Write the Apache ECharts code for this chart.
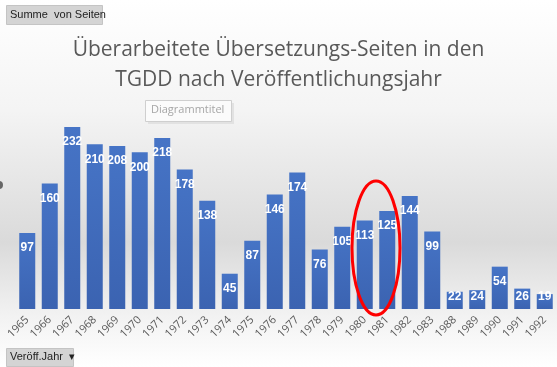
<!DOCTYPE html>
<html><head><meta charset="utf-8">
<script src="https://cdn.jsdelivr.net/npm/echarts@6/dist/echarts.min.js"></script>
<style>html,body{margin:0;padding:0;background:#fff}#c{width:557px;height:367px}</style>
</head><body><div id="c"></div>
<script>
const years = ['1965','1966','1967','1968','1969','1970','1971','1972','1973','1974','1975','1976','1977','1978','1979','1980','1981','1982','1983','1988','1989','1990','1991','1992'];
const pages = [97,160,232,210,208,200,218,178,138,45,87,146,174,76,105,113,125,144,99,22,24,54,26,19];
const titleText = 'Überarbeitete Übersetzungs-Seiten in den\nTGDD nach Veröffentlichungsjahr';

const yMax = 250, gridTop = 113, gridBottom = 58, H = 367;
const pxPerUnit = (H - gridTop - gridBottom) / yMax;
const seriesData = pages.map(v => ({
  value: v,
  label: { distance: Math.min(9, v * pxPerUnit - 18) }
}));

const chart = echarts.init(document.getElementById('c'), null, {renderer:'canvas'});
chart.setOption({
  animation:false,
  backgroundColor:{type:'linear',x:0,y:0,x2:0,y2:1,colorStops:[
    {offset:0,color:'#ffffff'},{offset:0.3,color:'#f4f4f4'},{offset:0.66,color:'#dadada'},{offset:0.86,color:'#f2f2f2'},{offset:1,color:'#ffffff'}]},
  title:{text:titleText,left:'center',top:30,textStyle:{fontFamily:'Open Sans',fontWeight:'normal',fontSize:21,color:'#595959',lineHeight:30}},
  grid:{left:16,right:1,top:gridTop,bottom:gridBottom,containLabel:false},
  xAxis:{type:'category',data:years,axisLine:{show:false},axisTick:{show:false},
    axisLabel:{rotate:45,color:'#595959',fontSize:11,fontFamily:'Open Sans',interval:0,margin:9}},
  yAxis:{type:'value',min:0,max:yMax,show:false,splitLine:{show:false}},
  series:[{type:'bar',data:seriesData,barWidth:16,
    itemStyle:{color:{type:'linear',x:0,y:0,x2:0,y2:1,colorStops:[{offset:0,color:'#4674c6'},{offset:1,color:'#3b63b1'}]}},
    label:{show:true,position:'insideTop',distance:9,color:'#ffffff',fontWeight:'bold',fontSize:12,fontFamily:'Liberation Sans'}}],
  graphic:[
    {type:'rect',left:6,top:5,shape:{width:96,height:19},style:{fill:'#d4d4d4',stroke:'#c4c4c4'}},
    {type:'text',left:10,top:9,style:{text:'Summe  von Seiten',fill:'#222',font:'11px Liberation Sans'}},
    {type:'rect',left:148,top:103,shape:{width:86,height:21},style:{fill:'#e2e2e2'}},
    {type:'rect',left:145,top:100,shape:{width:86,height:21},style:{fill:'#fbfbfb',stroke:'#cfcfcf'}},
    {type:'text',left:151,top:104,style:{text:'Diagrammtitel',fill:'#a6a6a6',font:'11px Open Sans'}},
    {type:'rect',left:6,top:348,shape:{width:67,height:18},style:{fill:'#d4d4d4',stroke:'#c4c4c4'}},
    {type:'text',left:10,top:351,style:{text:'Veröff.Jahr  ▾',fill:'#222',font:'11px Liberation Sans'}},
    {type:'ellipse',shape:{cx:376,cy:248,rx:24,ry:67},style:{fill:'none',stroke:'#ff0000',lineWidth:3},z:100},
    {type:'circle',shape:{cx:-1,cy:185,r:4},style:{fill:'#666'}}
  ]
});
</script></body></html>
